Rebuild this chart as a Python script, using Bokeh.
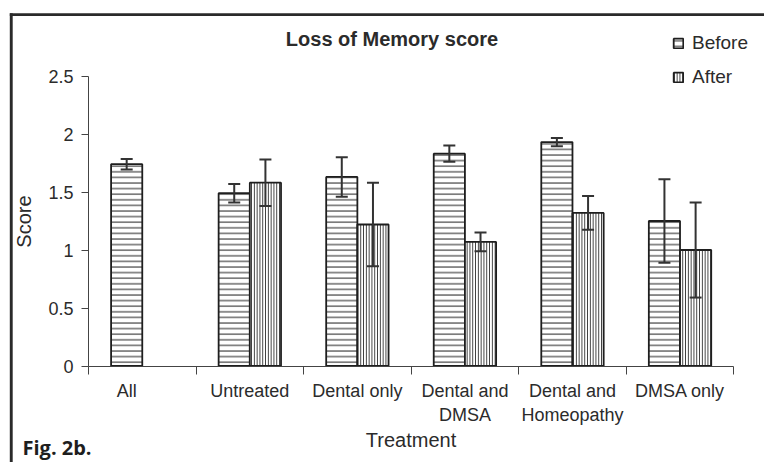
from bokeh.plotting import figure
from bokeh.models import (ColumnDataSource, Range1d, FixedTicker, NumeralTickFormatter,
                          Whisker, TeeHead, Label, Legend, LegendItem, BoxAnnotation)
from bokeh.embed import file_html
from bokeh.resources import INLINE

# ---- data ----
categories = ["All", "Untreated", "Dental only", "Dental and\nDMSA",
              "Dental and\nHomeopathy", "DMSA only"]
before = [1.74, 1.49, 1.63, 1.83, 1.93, 1.25]
before_err = [0.045, 0.08, 0.17, 0.07, 0.035, 0.36]
after = [None, 1.58, 1.22, 1.07, 1.32, 1.0]
after_err = [None, 0.20, 0.36, 0.08, 0.145, 0.41]
y_ticks = [0, 0.5, 1, 1.5, 2, 2.5]

FONT = "Liberation Sans"
TXT = "#2b2b2b"

W_PX, H_PX = 764, 462
XPX = (733.3 - 88.0) / 6.0        # pixels per category
YPX = (365.5 - 75.5) / 2.5        # pixels per score unit
X0 = -0.5 - 88.0 / XPX
X1 = X0 + W_PX / XPX
Y1 = 2.5 + 75.5 / YPX
Y0 = Y1 - H_PX / YPX

def dx(px):
    return X0 + px / XPX

def dy(py):
    return Y1 - py / YPX

OFF = 0.145
W = 0.29

idx = list(range(len(categories)))
bx = [i - OFF for i in idx]
ax = [i + OFF for i in idx if after[i] is not None]
a_vals = [v for v in after if v is not None]
a_errs = [e for e in after_err if e is not None]

src_b = ColumnDataSource(dict(x=bx, top=before,
                              lower=[v - e for v, e in zip(before, before_err)],
                              upper=[v + e for v, e in zip(before, before_err)]))
src_a = ColumnDataSource(dict(x=ax, top=a_vals,
                              lower=[v - e for v, e in zip(a_vals, a_errs)],
                              upper=[v + e for v, e in zip(a_vals, a_errs)]))

p = figure(width=W_PX, height=H_PX, output_backend="svg", toolbar_location=None,
           x_range=Range1d(X0, X1), y_range=Range1d(Y0, Y1),
           min_border_left=0, min_border_right=0, min_border_top=0, min_border_bottom=0)
p.outline_line_color = None
p.xgrid.visible = False
p.ygrid.visible = False
p.background_fill_color = "white"
p.border_fill_color = "white"

r_b = p.vbar(x="x", top="top", bottom=0, width=W, source=src_b,
             fill_color="white", line_color="#1e1e1e", line_width=1.8,
             hatch_pattern="horizontal_line", hatch_scale=5.6, hatch_weight=1.1,
             hatch_color="#333333")
r_a = p.vbar(x="x", top="top", bottom=0, width=W, source=src_a,
             fill_color="white", line_color="#1e1e1e", line_width=1.8,
             hatch_pattern="vertical_line", hatch_scale=2.8, hatch_weight=1.0,
             hatch_color="#333333")

for src in (src_b, src_a):
    wk = Whisker(source=src, base="x", upper="upper", lower="lower", dimension="height",
                 line_color="#333333", line_width=2, level="annotation",
                 upper_head=TeeHead(size=12, line_color="#333333", line_width=2),
                 lower_head=TeeHead(size=12, line_color="#333333", line_width=2))
    p.add_layout(wk)

# ---- axes (fixed at the data origin) ----
label_pos = [-OFF] + idx[1:]
xa = p.xaxis[0]
xa.fixed_location = 0
xa.bounds = (-0.5, 5.5)
xa.ticker = FixedTicker(ticks=label_pos, minor_ticks=[i - 0.5 for i in range(len(categories) + 1)])
xa.major_label_overrides = {float(pos): lab for pos, lab in zip(label_pos, categories)}
xa.major_tick_line_color = None
xa.minor_tick_out = 8
xa.minor_tick_in = 0
xa.minor_tick_line_color = "#444444"
xa.axis_line_color = "#444444"
xa.major_label_text_font = FONT
xa.major_label_text_font_size = "18px"
xa.major_label_text_color = TXT
xa.major_label_standoff = 7
xa.axis_label = "Treatment"
xa.axis_label_text_font = FONT
xa.axis_label_text_font_size = "20px"
xa.axis_label_text_font_style = "normal"
xa.axis_label_text_color = TXT
xa.axis_label_standoff = 0

ya = p.yaxis[0]
ya.fixed_location = -0.5
ya.bounds = (0, 2.5)
ya.ticker = FixedTicker(ticks=y_ticks)
ya.formatter = NumeralTickFormatter(format="0.[0]")
ya.major_tick_out = 7
ya.major_tick_in = 0
ya.minor_tick_line_color = None
ya.major_tick_line_color = "#444444"
ya.axis_line_color = "#444444"
ya.major_label_text_font = FONT
ya.major_label_text_font_size = "18px"
ya.major_label_text_color = TXT
ya.major_label_standoff = 8
ya.axis_label = "Score"
ya.axis_label_text_font = FONT
ya.axis_label_text_font_size = "20px"
ya.axis_label_text_font_style = "normal"
ya.axis_label_text_color = TXT
ya.axis_label_standoff = 10

# ---- title ----
p.add_layout(Label(x=dx(391.5), y=dy(38.7), text="Loss of Memory score",
                   text_align="center", text_baseline="alphabetic",
                   text_font=FONT, text_font_size="20px", text_font_style="bold",
                   text_color=TXT))

# ---- legend ----
legend = Legend(items=[LegendItem(label="Before", renderers=[r_b]),
                       LegendItem(label="After", renderers=[r_a])],
                location=(672, H_PX - 88), orientation="vertical",
                glyph_width=12, glyph_height=12, label_height=22, label_standoff=8,
                spacing=12, padding=0, margin=0,
                border_line_color=None, background_fill_alpha=0,
                label_text_font=FONT, label_text_font_size="19px", label_text_color=TXT)
p.add_layout(legend)

# ---- figure frame lines and caption ----
p.add_layout(BoxAnnotation(left=dx(9.3), right=dx(12.2), top=dy(12.7), bottom=dy(480),
                           fill_color="#2a2a2a", fill_alpha=1, line_color=None))
p.add_layout(BoxAnnotation(left=dx(9.3), right=dx(800), top=dy(12.7), bottom=dy(15.4),
                           fill_color="#2a2a2a", fill_alpha=1, line_color=None))
p.add_layout(Label(x=dx(22), y=dy(447), text="Fig. 2b.", text_align="left",
                   text_baseline="alphabetic", text_font="Open Sans",
                   text_font_size="20px", text_font_style="bold", text_color="#1e1e1e"))

open("out.html", "w").write(file_html(p, INLINE))
